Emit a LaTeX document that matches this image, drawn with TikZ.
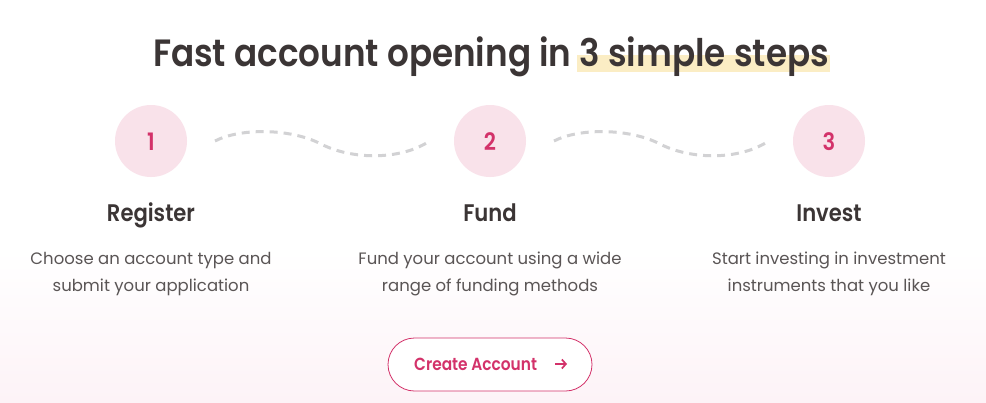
\documentclass[tikz,border=0pt]{standalone}
\usepackage{graphicx}
\usepackage{fontspec}
\setmainfont{Poppins}[BoldFont={Poppins SemiBold}]
\usetikzlibrary{arrows.meta}
\definecolor{titlec}{HTML}{3B3535}
\definecolor{descc}{HTML}{5A5555}
\definecolor{crim}{HTML}{D3326A}
\definecolor{circc}{HTML}{F9E2EA}
\definecolor{hl}{HTML}{FBEDC4}
\definecolor{dashc}{HTML}{D2D2D4}
\definecolor{bgpink}{HTML}{FDF3F7}
\newcommand{\hsq}[2][0.88]{\scalebox{#1}[1]{#2}}
\tikzset{
  stepcirc/.style={circle, fill=circc, minimum size=72pt, inner sep=0pt},
  stepnum/.style={text=crim, anchor=base, font=\fontsize{24}{28}\selectfont\bfseries},
  stephead/.style={text=titlec, anchor=base, font=\fontsize{24}{28}\selectfont\bfseries},
  stepdesc/.style={text=descc, anchor=base, font=\fontsize{16.5}{20}\selectfont},
  wave/.style={dashc, line width=3pt, dash pattern=on 8pt off 6pt}
}
\begin{document}
\begin{tikzpicture}[x=1pt,y=-1pt]
\useasboundingbox (0,0) rectangle (986,402);
\fill[white] (0,0) rectangle (986,250);
\shade[top color=white, bottom color=bgpink] (0,250) rectangle (986,402);
% title highlight
\fill[hl] (577,55) rectangle (830,72);
\node[text=titlec, anchor=base, font=\fontsize{38}{44}\selectfont\bfseries] (title) at (491,66) {\hsq[0.9]{Fast account opening in 3 simple steps}};
% circles
\node[stepcirc] (c1) at (151,141) {};
\node[stepcirc] (c2) at (490,141) {};
\node[stepcirc] (c3) at (829,141) {};
\node[stepnum] (n1) at (151,150) {\hsq{1}};
\node[stepnum] (n2) at (490,150) {\hsq{2}};
\node[stepnum] (n3) at (829,150) {\hsq{3}};
\coordinate (w1s) at (215,141);
\coordinate (w1e) at (428,142);
\coordinate (w2s) at (554,141);
\coordinate (w2e) at (767,142);
\draw[wave] (w1s) .. controls (240,128) and (290,128) .. (321,144) .. controls (352,160) and (400,160) .. (w1e);
\draw[wave] (w2s) .. controls (579,128) and (629,128) .. (660,144) .. controls (691,160) and (739,160) .. (w2e);
% headings
\node[stephead] (h1) at (151,221) {\hsq{Register}};
\node[stephead] (h2) at (490,221) {\hsq{Fund}};
\node[stephead] (h3) at (829,221) {\hsq{Invest}};
\node[stepdesc] (d1a) at (151,264) {Choose an account type and};
\node[stepdesc] (d1b) at (151,291) {submit your application};
\node[stepdesc] (d2a) at (490,264) {Fund your account using a wide};
\node[stepdesc] (d2b) at (490,291) {range of funding methods};
\node[stepdesc] (d3a) at (829,264) {Start investing in investment};
\node[stepdesc] (d3b) at (829,291) {instruments that you like};
% button
\node[draw=crim, line width=0.8pt, rounded corners=26.5pt, minimum width=204pt, minimum height=53pt, fill=white] (btn) at (490,364.5) {};
\node[text=crim, anchor=base west, inner sep=0pt, font=\fontsize{17.5}{20}\selectfont\bfseries] (btnt) at (414,370) {\hsq{Create Account}};
\coordinate (as) at (555,364);
\coordinate (ae) at (567,364);
\draw[crim, line width=1.7pt, -{Straight Barb[length=4pt,width=9pt]}] (as) -- (ae);
\end{tikzpicture}
\end{document}
